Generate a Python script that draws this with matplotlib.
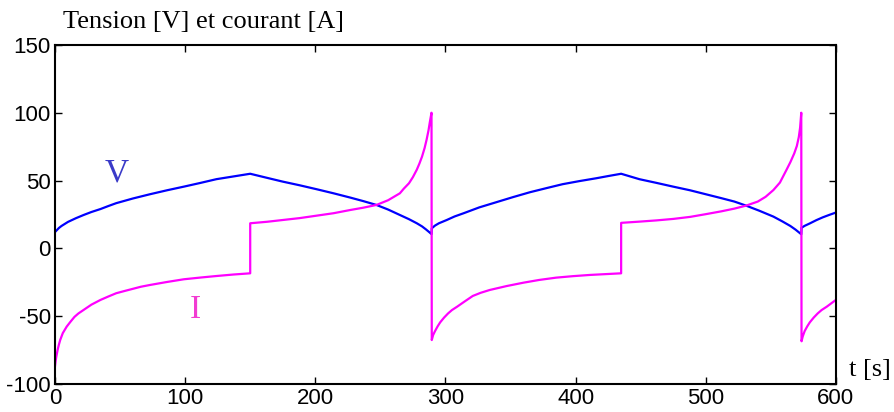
import matplotlib
matplotlib.use("Agg")
import matplotlib.pyplot as plt

plt.rcParams["axes.unicode_minus"] = False

# values
t_v = [0, 1, 3, 5, 10, 16, 22, 28, 35, 41, 47, 60, 73, 86, 99, 112, 124, 137, 150,
       162, 175, 188, 201, 214, 227, 237, 247, 256, 265, 272, 278, 282, 285, 287.5, 289.3,
       289.5, 292, 295, 301, 307, 314, 326, 339, 352, 365, 378, 390, 403, 416, 425, 435,
       449, 462, 475, 488, 500, 512, 522, 531, 541, 552, 559, 565, 569, 573.4,
       573.6, 576, 580, 585, 590, 595, 600]
v = [12, 13, 15, 16.5, 19.5, 22.2, 24.6, 26.8, 29, 31.2, 33.3, 36.8, 39.9, 42.8, 45.5, 48.3, 51, 53, 55,
     52.2, 49.2, 46.5, 43.6, 40.6, 37.4, 34.8, 32, 28.6, 24.6, 21.5, 18.5, 16.2, 14, 12, 10.5,
     14.8, 16.8, 18.5, 20.9, 23.5, 25.9, 30.2, 34, 37.8, 41.4, 44.5, 47.3, 49.6, 51.7, 53.3, 55,
     51, 48.3, 45.5, 42.8, 39.9, 37, 34.5, 31.5, 27.8, 23.4, 19.8, 16.5, 13.8, 10.4,
     15.2, 16.6, 18.4, 20.8, 22.9, 24.7, 26.4]

t_i = [0, 0.5, 1, 2, 3, 4, 6, 9, 12, 15, 18, 22, 28, 35, 41, 47, 54, 60, 66, 73,
       86, 99, 112, 124, 137, 150, 150,
       163, 175, 188, 201, 214, 227, 237, 247, 256, 265, 268, 272, 275, 278, 280,
       282, 284, 285.5, 287, 288, 289.3,
       289.5, 290.5, 292, 294, 296, 299, 302, 305, 309, 315, 321, 327, 334, 347,
       360, 372, 385, 398, 411, 423, 435, 435,
       449, 462, 475, 488, 500, 512, 522, 531, 540, 546, 552, 557, 562, 565, 568,
       570, 571.5, 572.5, 573.4,
       573.6, 574.5, 576, 578, 580, 583, 586, 589, 593, 600]
cur = [-87, -83, -80, -75, -71, -67.6, -62.5, -57.7, -54, -50.5, -48, -45.4, -41.5, -38, -35.5,
       -33.1, -31.3, -29.8, -28.3, -27, -24.8, -22.8, -21.5, -20.4, -19.3, -18.4, 18.5,
       19.6, 20.9, 22.3, 24.1, 25.9, 28.3, 30, 32, 35.5, 40.6, 44, 48, 52.5, 58, 62.5,
       67.6, 74, 80, 87, 93, 100,
       -67.6, -64, -61, -57.5, -54.5, -51, -48, -45.5, -43, -39, -35.1, -32.8, -30.7, -27.8,
       -25.3, -23.3, -21.6, -20.5, -19.6, -19, -18.4, 18.8,
       19.7, 20.6, 21.7, 23.2, 25.2, 27.3, 29.3, 31.5, 34.5, 38, 43, 48.5, 57.8, 63.5, 70,
       75.5, 82, 89, 100,
       -68.5, -65, -61, -57.5, -54.5, -51, -48, -45.5, -43, -38]

x_ticks = [0, 100, 200, 300, 400, 500, 600]
y_ticks = [-100, -50, 0, 50, 100, 150]

fig = plt.figure(figsize=(8.94, 4.12), dpi=100)
ax = fig.add_axes([0.0615, 0.068, 0.8735, 0.823])

ax.plot(t_v, v, color="#0000ff", linewidth=1.6)
ax.plot(t_i, cur, color="#ff00ff", linewidth=1.6)

ax.set_xlim(0, 600)
ax.set_ylim(-100, 150)
ax.set_xticks(x_ticks)
ax.set_yticks(y_ticks)
ax.tick_params(direction="in", length=5, width=1, top=True, right=True,
               labelsize=16, pad=3)
for lbl in ax.get_xticklabels() + ax.get_yticklabels():
    lbl.set_family("Liberation Sans")
for s in ax.spines.values():
    s.set_linewidth(1.5)

serif = "Liberation Serif"
fig.text(63 / 894, 1 - 22 / 412, "Tension [V] et courant [A]", family=serif,
         fontsize=19, va="center", ha="left")
fig.text(849 / 894, 1 - 370 / 412, "t [s]", family=serif, fontsize=19,
         va="center", ha="left")
ax.text(47.6, 55.6, "V", family=serif, fontsize=24, color="#3a3ac8",
        ha="center", va="center")
ax.text(107.5, -45.4, "I", family=serif, fontsize=24, color="#f23cd2",
        ha="center", va="center")

fig.savefig("out.png", dpi=100)
